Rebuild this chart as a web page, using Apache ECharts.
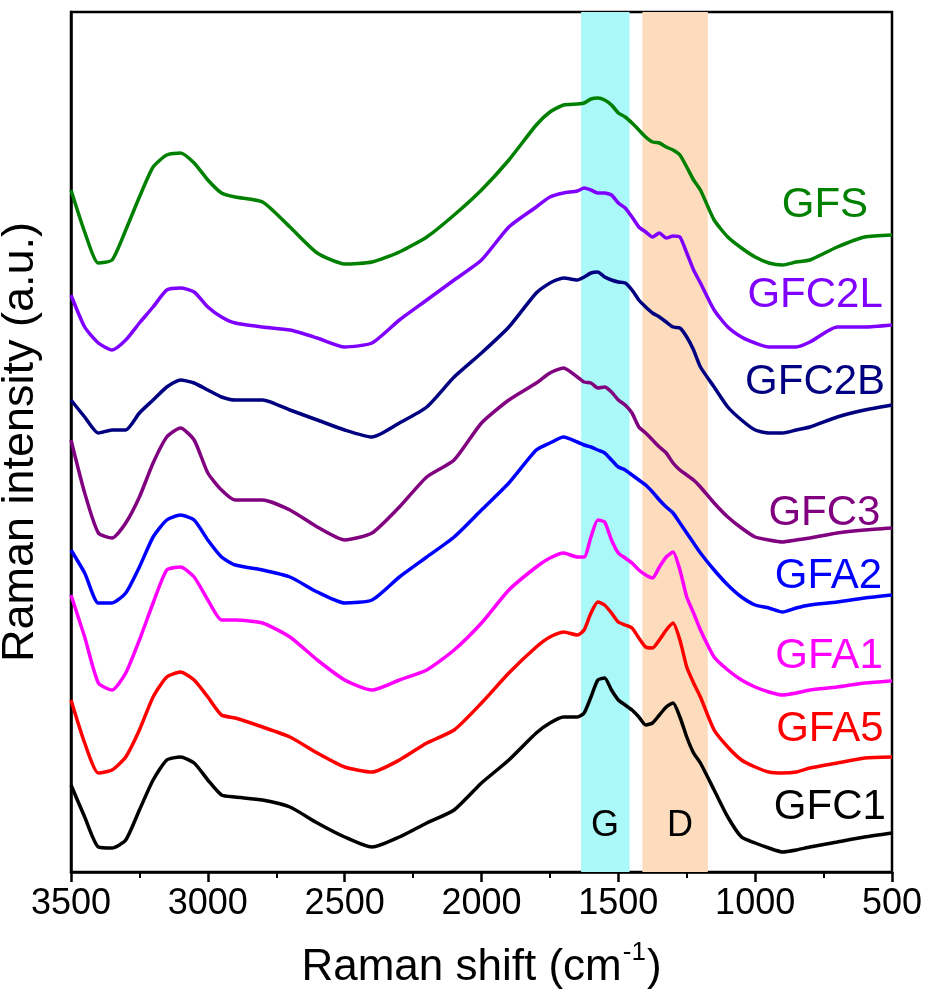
<!DOCTYPE html>
<html>
<head>
<meta charset="utf-8">
<script src="https://cdn.jsdelivr.net/npm/echarts@6/dist/echarts.min.js"></script>
<style>
  html, body { margin: 0; padding: 0; background: #ffffff; }
  #chart { width: 925px; height: 998px; }
</style>
</head>
<body>
<div id="chart"></div>
<script>
// Raman shift sampling points (cm^-1)
const wavenumber = [3500, 3450, 3400, 3350, 3300, 3250, 3200, 3150, 3100, 3050,
  3000, 2950, 2900, 2800, 2700, 2600, 2500, 2400, 2300, 2200,
  2100, 2000, 1900, 1800, 1750, 1700, 1650, 1625, 1600, 1575,
  1550, 1525, 1500, 1475, 1450, 1425, 1400, 1375, 1350, 1325,
  1300, 1275, 1250, 1225, 1200, 1150, 1100, 1050, 1000, 950,
  900, 850, 800, 700, 600, 500];

// Stacked (offset) Raman intensities, a.u.
const GFS = [682, 640, 609, 612, 642, 675, 705, 717, 719, 709,
  692, 679, 675, 670, 645, 619, 608, 610, 620, 635,
  657, 682, 712, 747, 760, 767, 768, 769, 773, 774,
  772, 767, 759, 755, 749, 742, 735, 730, 729, 725,
  722, 717, 705, 692, 682, 652, 635, 624, 615, 609,
  607, 610, 612, 625, 635, 637];
const GFC2L = [577, 545, 529, 522, 532, 549, 565, 582, 584, 580,
  565, 555, 549, 545, 542, 534, 525, 529, 552, 572,
  592, 612, 645, 665, 675, 679, 681, 684, 682, 679,
  679, 677, 669, 664, 655, 645, 640, 635, 639, 634,
  636, 635, 619, 602, 589, 562, 545, 535, 529, 525,
  525, 525, 530, 545, 545, 547];
const GFC2B = [472, 455, 439, 442, 442, 459, 472, 485, 492, 489,
  482, 475, 472, 472, 462, 452, 442, 435, 449, 465,
  495, 519, 545, 579, 589, 594, 592, 595, 599, 600,
  595, 592, 590, 589, 582, 572, 565, 559, 555, 550,
  545, 544, 535, 522, 505, 485, 465, 452, 442, 439,
  439, 442, 445, 455, 462, 467];
const GFC3 = [432, 379, 339, 334, 349, 375, 409, 435, 444, 432,
  399, 382, 372, 372, 362, 345, 332, 339, 365, 395,
  412, 449, 472, 489, 499, 504, 495, 490, 489, 484,
  485, 480, 472, 467, 459, 445, 439, 432, 425, 419,
  409, 402, 397, 392, 385, 369, 355, 344, 335, 332,
  330, 332, 334, 339, 342, 344];
const GFA2 = [322, 299, 269, 269, 279, 305, 335, 352, 357, 352,
  332, 315, 307, 302, 295, 280, 269, 272, 295, 315,
  335, 362, 389, 422, 429, 435, 430, 427, 425, 422,
  419, 412, 405, 402, 397, 392, 387, 380, 372, 365,
  359, 349, 339, 329, 319, 302, 287, 275, 267, 264,
  260, 264, 267, 270, 274, 277];
const GFA1 = [277, 235, 189, 182, 199, 232, 269, 302, 305, 295,
  272, 252, 252, 249, 235, 212, 192, 182, 192, 202,
  222, 249, 282, 305, 314, 319, 315, 315, 335, 352,
  350, 332, 319, 314, 309, 302, 297, 294, 305, 315,
  320, 302, 275, 259, 242, 215, 202, 192, 185, 180,
  177, 179, 182, 185, 189, 191];
const GFA5 = [172, 129, 99, 102, 115, 142, 175, 195, 200, 192,
  175, 157, 154, 145, 135, 119, 105, 100, 112, 129,
  142, 169, 199, 225, 235, 240, 237, 242, 259, 270,
  267, 259, 250, 247, 244, 234, 225, 224, 232, 242,
  249, 232, 205, 189, 175, 142, 125, 112, 105, 100,
  99, 100, 104, 109, 114, 115];
const GFC1 = [87, 55, 25, 24, 32, 62, 92, 112, 115, 109,
  92, 77, 75, 72, 65, 49, 35, 25, 35, 49,
  62, 89, 112, 139, 149, 155, 155, 159, 175, 192,
  194, 182, 172, 167, 162, 155, 147, 149, 157, 165,
  169, 155, 135, 119, 109, 82, 55, 35, 29, 24,
  20, 22, 25, 30, 35, 39];

// Band regions (cm^-1)
const gBand = [1636, 1459];
const dBand = [1412, 1173];

// Sample names and colours
const names = ['GFS', 'GFC2L', 'GFC2B', 'GFC3', 'GFA2', 'GFA1', 'GFA5', 'GFC1'];
const values = [GFS, GFC2L, GFC2B, GFC3, GFA2, GFA1, GFA5, GFC1];
const colors = ['#008000', '#8000ff', '#000080', '#800080', '#0000ff', '#ff00ff', '#ff0000', '#000000'];

// Where each curve name sits, in (cm^-1, a.u.)
const nameAnchor = [[745, 667], [781, 577], [781, 490], [747, 359], [732, 296], [730, 216], [727, 143], [727, 65]];
const bandAnchor = [[1549, 46], [1275, 46]];

const FONT = 'Liberation Sans, Arial, sans-serif';

const chart = echarts.init(document.getElementById('chart'), null, { renderer: 'canvas' });

const series = [{
  type: 'line',
  data: [],
  silent: true,
  z: 1,
  markArea: {
    silent: true,
    itemStyle: { opacity: 1 },
    data: [
      [{ xAxis: gBand[0], itemStyle: { color: '#aaf8f8' } }, { xAxis: gBand[1] }],
      [{ xAxis: dBand[0], itemStyle: { color: '#fcdcbd' } }, { xAxis: dBand[1] }]
    ]
  },
  markPoint: {
    symbol: 'circle',
    symbolSize: 0,
    silent: true,
    label: { show: true, position: 'inside', color: '#000', fontSize: 36, fontFamily: FONT },
    data: [
      { coord: bandAnchor[0], label: { formatter: 'G' } },
      { coord: bandAnchor[1], label: { formatter: 'D' } }
    ]
  }
}];

names.forEach((n, i) => {
  series.push({
    name: n,
    type: 'line',
    z: 2,
    showSymbol: false,
    symbol: 'none',
    smooth: 0.2,
    lineStyle: { color: colors[i], width: 3.5 },
    data: wavenumber.map((w, k) => [w, values[i][k]]),
    markPoint: {
      symbol: 'circle',
      symbolSize: 0,
      silent: true,
      label: { show: true, position: 'inside', formatter: n, color: colors[i], fontSize: 42, fontFamily: FONT },
      data: [{ coord: nameAnchor[i] }]
    }
  });
});

chart.setOption({
  animation: false,
  backgroundColor: '#ffffff',
  textStyle: { fontFamily: FONT },
  grid: {
    left: 71, right: 33, top: 12, bottom: 126,
    containLabel: false,
    outerBoundsMode: 'none',
    show: true, borderColor: '#000', borderWidth: 2.5, backgroundColor: 'transparent'
  },
  xAxis: {
    type: 'value',
    inverse: true,
    min: 500, max: 3500, interval: 500,
    axisLine: { show: true, lineStyle: { color: '#000', width: 2.5 } },
    axisTick: { show: true, inside: false, length: 10, lineStyle: { color: '#000', width: 2.5 } },
    minorTick: { show: true, splitNumber: 2, length: 6, lineStyle: { color: '#000', width: 2 } },
    splitLine: { show: false },
    axisLabel: { color: '#000', fontSize: 36, margin: 14, fontFamily: FONT, formatter: (v) => String(v) },
    name: '{a|Raman shift (cm}{s|-1}{a|)}',
    nameLocation: 'middle',
    nameGap: 68,
    nameTextStyle: {
      color: '#000',
      rich: {
        a: { fontSize: 44, fontFamily: FONT, color: '#000', lineHeight: 50, verticalAlign: 'bottom' },
        s: { fontSize: 26, fontFamily: FONT, color: '#000', lineHeight: 50, verticalAlign: 'top', padding: [0, 1, 0, 1] }
      }
    }
  },
  yAxis: {
    type: 'value',
    min: 0, max: 860,
    axisLine: { show: true, lineStyle: { color: '#000', width: 2.5 } },
    axisTick: { show: false },
    axisLabel: { show: false },
    splitLine: { show: false },
    name: 'Raman intensity (a.u.)',
    nameLocation: 'middle',
    nameGap: 28,
    nameTextStyle: { color: '#000', fontSize: 45, fontFamily: FONT }
  },
  series: series
});
</script>
</body>
</html>
